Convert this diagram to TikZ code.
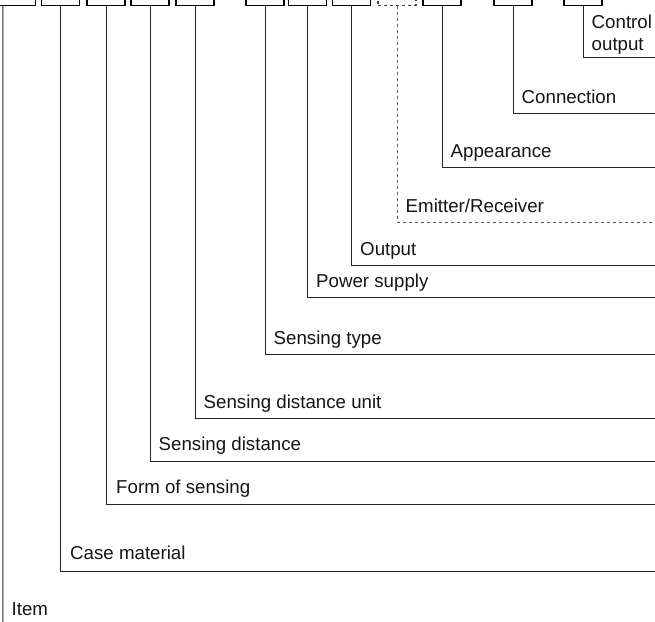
\documentclass[tikz,border=0pt]{standalone}
\usepackage{fontspec}
\setmainfont{Liberation Sans}
\begin{document}
\begin{tikzpicture}[x=1pt,y=-1pt,
  fieldbox/.style={draw=black,line width=1.4pt,minimum width=38pt,minimum height=30pt,inner sep=0pt,anchor=south},
  dashbox/.style={fieldbox,draw=black!75,dash pattern=on 3pt off 3pt},
  lbl/.style={anchor=base west,inner sep=0pt,font=\fontsize{18.7}{22}\selectfont,text=black!92},
  conn/.style={draw=black!85,line width=1pt},
  dconn/.style={draw=black!65,line width=1pt,dash pattern=on 3pt off 3pt}]
\clip (0,0) rectangle (655,621);
% boxes
\node[fieldbox] (b1)  at (16.5,6) {};
\node[fieldbox] (b2)  at (60.5,6) {};
\node[fieldbox] (b3)  at (106,6) {};
\node[fieldbox] (b4)  at (150,6) {};
\node[fieldbox] (b5)  at (195,6) {};
\node[fieldbox] (b6)  at (265,6) {};
\node[fieldbox] (b7)  at (307.5,6) {};
\node[fieldbox] (b8)  at (351.5,6) {};
\node[dashbox]  (b9)  at (397,6) {};
\node[fieldbox] (b10) at (442,6) {};
\node[fieldbox] (b11) at (513,6) {};
\node[fieldbox] (b12) at (583,6) {};
% line ends at the right edge
\coordinate (e12) at (660,57);
\coordinate (e11) at (660,113);
\coordinate (e10) at (660,167);
\coordinate (e9)  at (660,222);
\coordinate (e8)  at (660,265);
\coordinate (e7)  at (660,297);
\coordinate (e6)  at (660,354);
\coordinate (e5)  at (660,418);
\coordinate (e4)  at (660,461);
\coordinate (e3)  at (660,504);
\coordinate (e2)  at (660,571);
\coordinate (e1)  at (3,625);
% connectors
\draw[conn] ([xshift=6pt]b1.south west) -- (e1);
\draw[conn] (b2.south) |- (e2);
\draw[conn] (b3.south) |- (e3);
\draw[conn] (b4.south) |- (e4);
\draw[conn] (b5.south) |- (e5);
\draw[conn] (b6.south) |- (e6);
\draw[conn] (b7.south) |- (e7);
\draw[conn] (b8.south) |- (e8);
\draw[dconn] (b9.south) |- (e9);
\draw[conn] (b10.south) |- (e10);
\draw[conn] (b11.south) |- (e11);
\draw[conn] (b12.south) |- (e12);
% labels
\node[lbl] (l12a) at (591.5,28) {Control};
\node[lbl] (l12b) at (591.5,50) {output};
\node[lbl] (l11) at (521.5,103) {Connection};
\node[lbl] (l10) at (450.5,157) {Appearance};
\node[lbl] (l9)  at (405.5,212) {Emitter/Receiver};
\node[lbl] (l8)  at (360,255) {Output};
\node[lbl] (l7)  at (316,287) {Power supply};
\node[lbl] (l6)  at (273.5,344) {Sensing type};
\node[lbl] (l5)  at (203.5,408) {Sensing distance unit};
\node[lbl] (l4)  at (158.5,450.5) {Sensing distance};
\node[lbl] (l3)  at (116,493) {Form of sensing};
\node[lbl] (l2)  at (70,559) {Case material};
\node[lbl] (l1)  at (11.5,615) {Item};
\end{tikzpicture}
\end{document}
